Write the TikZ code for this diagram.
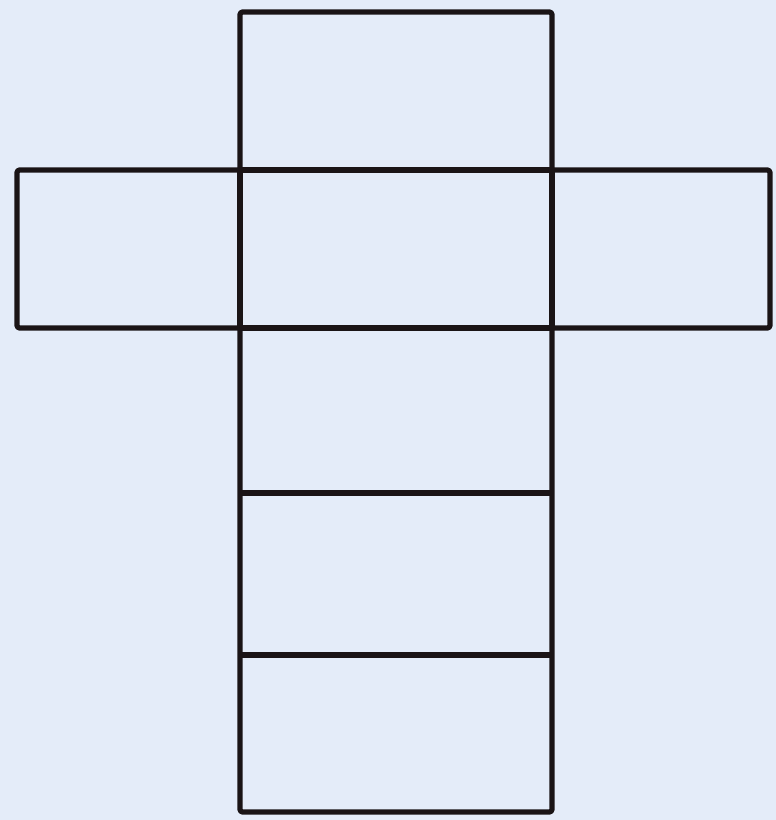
\documentclass[tikz,border=0pt]{standalone}
\usepackage{tikz}
\usetikzlibrary{positioning,calc}
\definecolor{sheet}{HTML}{E4ECF9}
\definecolor{ink}{HTML}{1A1416}

\begin{document}
\begin{tikzpicture}[x=0.02cm, y=-0.02cm, face/.style={draw=ink, line width=3pt, line join=round, rounded corners=1.5pt}, fold/.style={face, line width=3.8pt}]
    \fill[sheet] (0,0) rectangle (776,820);
    \useasboundingbox (0,0) rectangle (776,820);
    % column of faces
    \draw[face] (240,12) rectangle (552,170);
    \draw[face] (240,328) rectangle (552,812);
    \draw[fold] (240,493) -- (552,493);
    \draw[fold] (240,655) -- (552,655);
    % side flaps
    \draw[face] (17,170) rectangle (240,328);
    \draw[face] (552,170) rectangle (770,328);
    % base face
    \draw[fold, rounded corners=0pt] (240,170) rectangle (552,328);
\end{tikzpicture}
\end{document}
